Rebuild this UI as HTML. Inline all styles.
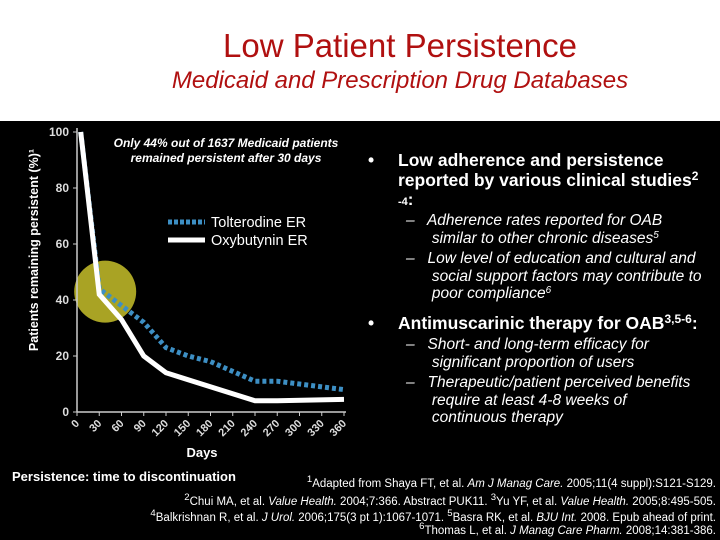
<!DOCTYPE html>
<html><head><meta charset="utf-8"><style>
body{margin:0;width:720px;height:540px;overflow:hidden;background:#000;font-family:"Liberation Sans",sans-serif;position:relative}
.top{position:absolute;left:0;top:0;width:720px;height:121px;background:#fff}
.t{position:absolute;white-space:nowrap;color:#fff}
.b{font-weight:bold;font-size:17.5px;line-height:20px}
.s{font-style:italic;font-size:15.5px;line-height:17.5px}
sup{line-height:0;vertical-align:0;position:relative;top:-0.5em}
.ref{position:absolute;right:4px;text-align:right;font-size:11.5px;color:#fff;white-space:nowrap;font-family:"Liberation Sans Narrow","Liberation Sans",sans-serif}
</style></head><body>
<div class="top"></div>
<div class="t" style="left:0;width:800px;text-align:center;top:27px;font-size:33px;color:#b01010">Low Patient Persistence</div>
<div class="t" style="left:0;width:800px;text-align:center;top:67px;font-size:24px;font-style:italic;color:#b01010">Medicaid and Prescription Drug Databases</div>

<svg id="chart" width="720" height="540" style="position:absolute;left:0;top:0">
<g id="g"></g>
</svg>

<div class="t" style="left:86px;top:136px;width:280px;text-align:center;font-size:12px;font-weight:bold;font-style:italic;line-height:15px">Only 44% out of 1637 Medicaid patients<br>remained persistent after 30 days</div>

<div class="t b" style="left:368px;top:150px">•</div>
<div class="t b" style="left:398px;top:150px">Low adherence and persistence<br>reported by various clinical studies<sup style="font-size:12px">2</sup></div>
<div class="t" style="left:398px;top:190px;font-size:11px;font-weight:bold">-4<span style="font-size:17px">:</span></div>
<div class="t s" style="left:406px;top:212px">–&nbsp;&nbsp; Adherence rates reported for OAB<br>&nbsp;&nbsp;&nbsp;&nbsp;&nbsp; similar to other chronic diseases<sup style="font-size:10px">5</sup></div>
<div class="t s" style="left:406px;top:250px">–&nbsp;&nbsp; Low level of education and cultural and<br>&nbsp;&nbsp;&nbsp;&nbsp;&nbsp; social support factors may contribute to<br>&nbsp;&nbsp;&nbsp;&nbsp;&nbsp; poor compliance<sup style="font-size:10px">6</sup></div>
<div class="t b" style="left:368px;top:313px">•</div>
<div class="t b" style="left:398px;top:313px">Antimuscarinic therapy for OAB<sup style="font-size:12px">3,5-6</sup>:</div>
<div class="t s" style="left:406px;top:336px">–&nbsp;&nbsp; Short- and long-term efficacy for<br>&nbsp;&nbsp;&nbsp;&nbsp;&nbsp; significant proportion of users</div>
<div class="t s" style="left:406px;top:374px">–&nbsp;&nbsp; Therapeutic/patient perceived benefits<br>&nbsp;&nbsp;&nbsp;&nbsp;&nbsp; require at least 4-8 weeks of<br>&nbsp;&nbsp;&nbsp;&nbsp;&nbsp; continuous therapy</div>

<div class="t" style="left:12px;top:469px;font-size:13px;font-weight:bold">Persistence: time to discontinuation</div>
<div class="ref" style="top:478px"><sup>1</sup>Adapted from Shaya FT, et al. <i>Am J Manag Care.</i> 2005;11(4 suppl):S121-S129.</div>
<div class="ref" style="top:496px"><sup>2</sup>Chui MA, et al. <i>Value Health.</i> 2004;7:366. Abstract PUK11. <sup>3</sup>Yu YF, et al. <i>Value Health.</i> 2005;8:495-505.</div>
<div class="ref" style="top:512px"><sup>4</sup>Balkrishnan R, et al. <i>J Urol.</i> 2006;175(3 pt 1):1067-1071. <sup>5</sup>Basra RK, et al. <i>BJU Int.</i> 2008. Epub ahead of print.</div>
<div class="ref" style="top:525px"><sup>6</sup>Thomas L, et al. <i>J Manag Care Pharm.</i> 2008;14:381-386.</div>

<script>
const xTicks=[0,30,60,90,120,150,180,210,240,270,300,330,360];
const yTicks=[0,20,40,60,80,100];
const oxyDays=[5,30,60,90,120,240,270,360];
const oxyVals=[100,42,33,20,14,4,4,4.5];
const tolDays=[5,30,60,90,120,150,180,240,270,300,360];
const tolVals=[100,44,38,32,23,20,18,11,11,10,8];
const NS='http://www.w3.org/2000/svg';
const g=document.getElementById('g');
const X0=77,X1=344,Y0=412,Y1=132;
const xs=d=>X0+(X1-X0)*d/360;
const ys=v=>Y0-(Y0-Y1)*v/100;
function mk(t,a){const e=document.createElementNS(NS,t);for(const k in a)e.setAttribute(k,a[k]);g.appendChild(e);return e;}
let c=mk('circle',{cx:xs(38),cy:ys(43),r:31,fill:'#a9a324'});


let ax=mk('line',{x1:X0,y1:Y1-4,x2:X0,y2:Y0,stroke:'#ccc','stroke-width':1.5});


let ax2=mk('line',{x1:X0,y1:Y0,x2:X1+2,y2:Y0,stroke:'#ccc','stroke-width':1.5});


yTicks.forEach(v=>{
  mk('line',{x1:X0-4,x2:X0,y1:ys(v),y2:ys(v),stroke:'#ccc'});
  let t=mk('text',{x:X0-8,y:ys(v)+4,fill:'#ddd','font-size':12,'font-weight':'bold','text-anchor':'end','font-family':'Liberation Sans'});
  t.textContent=v;
  
  
});
xTicks.forEach(d=>{
  mk('line',{x1:xs(d),x2:xs(d),y1:Y0,y2:Y0+4,stroke:'#ccc'});
  let t=mk('text',{x:xs(d)+3,y:Y0+12,fill:'#ddd','font-size':11,'font-weight':'bold','text-anchor':'end','font-family':'Liberation Sans',transform:`rotate(-45 ${xs(d)+3} ${Y0+12})`});
  t.textContent=d;
  
  
});
let xt=mk('text',{x:202,y:457,fill:'#fff','font-size':13,'font-weight':'bold','text-anchor':'middle','font-family':'Liberation Sans'});
xt.textContent='Days';


let yt=mk('text',{x:38,y:250,fill:'#fff','font-size':12.5,'font-weight':'bold','text-anchor':'middle','font-family':'Liberation Sans',transform:'rotate(-90 38 250)'});
yt.textContent='Patients remaining persistent (%)¹';


const pts=(ds,vs)=>ds.map((d,i)=>xs(d)+','+ys(vs[i])).join(' ');
let tl=mk('polyline',{points:pts(tolDays,tolVals),fill:'none',stroke:'#3d8fc4','stroke-width':5,'stroke-dasharray':'4 3'});


let ol=mk('polyline',{points:pts(oxyDays,oxyVals),fill:'none',stroke:'#fff','stroke-width':5});


let l1=mk('line',{x1:168,x2:205,y1:222,y2:222,stroke:'#3d8fc4','stroke-width':5,'stroke-dasharray':'4 2'});


let l2=mk('line',{x1:168,x2:205,y1:240,y2:240,stroke:'#fff','stroke-width':5});


let lt1=mk('text',{x:211,y:227,fill:'#fff','font-size':14.5,'font-family':'Liberation Sans'});
lt1.textContent='Tolterodine ER';


let lt2=mk('text',{x:211,y:245,fill:'#fff','font-size':14.5,'font-family':'Liberation Sans'});
lt2.textContent='Oxybutynin ER';


</script>
</body></html>
